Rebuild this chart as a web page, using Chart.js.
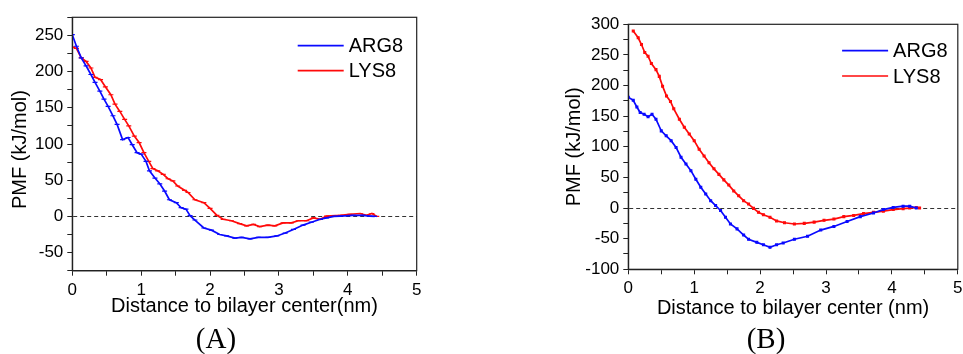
<!DOCTYPE html>
<html>
<head>
<meta charset="utf-8">
<script src="https://cdn.jsdelivr.net/npm/chart.js"></script>
<style>
  html, body { margin: 0; padding: 0; background: #fff; overflow: hidden; }
  .panel { position: absolute; top: 0; height: 325px; }
  .tag { position: absolute; top: 324px; width: 80px; text-align: center; font: 29px "Liberation Serif", "Times New Roman", serif; line-height: 1; color: #000; }
</style>
</head>
<body>
<div class="panel" style="left:0;width:440px"><canvas id="chartA"></canvas></div>
<div class="panel" style="left:520px;width:443px"><canvas id="chartB"></canvas></div>
<div class="tag" style="left:176px">(A)</div>
<div class="tag" style="left:726px">(B)</div>
<script>
// panel (A)
const aArgDist = [0, 0.06, 0.13, 0.20, 0.27, 0.33, 0.40, 0.46, 0.52, 0.59, 0.65, 0.73, 0.81, 0.87, 0.94, 1.00, 1.07, 1.12, 1.20, 1.27, 1.34, 1.41, 1.51, 1.58, 1.65, 1.71, 1.78, 1.91, 2.02, 2.14, 2.24, 2.36, 2.46, 2.58, 2.70, 2.84, 2.97, 3.09, 3.21, 3.35, 3.47, 3.60, 3.69, 3.80, 3.89, 4.00, 4.08, 4.22, 4.32, 4.39];
const aArgPmf = [251, 235, 219, 208, 196, 185, 173, 162, 152, 139, 127, 106, 109, 99, 88, 86, 76, 63, 53, 45, 35, 23, 19, 12, 10, 1, -5, -16, -19, -25, -27, -30, -29, -31, -29, -29, -27, -23, -18, -12, -8, -4, -2, 0, 0.5, 1, 1.4, 1.4, 0.5, 0];
const aLysDist = [0, 0.06, 0.13, 0.20, 0.27, 0.33, 0.41, 0.48, 0.56, 0.62, 0.69, 0.76, 0.82, 0.90, 0.97, 1.04, 1.11, 1.17, 1.24, 1.32, 1.39, 1.46, 1.53, 1.63, 1.68, 1.78, 1.91, 2.00, 2.10, 2.19, 2.31, 2.43, 2.53, 2.63, 2.72, 2.84, 2.94, 3.06, 3.18, 3.28, 3.40, 3.50, 3.60, 3.69, 3.89, 4.03, 4.18, 4.27, 4.35, 4.42];
const aLysPmf = [234, 232, 219, 214, 205, 192, 189, 179, 168, 155, 145, 134, 125, 111, 102, 88, 76, 66, 63, 58, 52, 49, 42, 36, 33, 23, 19, 11, 1.4, -4, -6, -10, -13, -11, -14, -12, -13, -9, -9, -6, -6, -2, -4, 0.5, 1.4, 3, 4, 1.4, 4, 0];

// panel (B)
const bArgDist = [0, 0.075, 0.13, 0.18, 0.24, 0.30, 0.36, 0.42, 0.50, 0.575, 0.65, 0.725, 0.80, 0.875, 0.95, 1.025, 1.10, 1.175, 1.25, 1.325, 1.40, 1.475, 1.55, 1.65, 1.75, 1.825, 1.95, 2.05, 2.15, 2.25, 2.35, 2.52, 2.72, 2.92, 3.12, 3.32, 3.52, 3.72, 3.87, 4.02, 4.17, 4.27, 4.37];
const bArgPmf = [181, 176, 165, 156, 153, 149, 153, 145, 126, 118, 110, 99, 83, 72, 61, 47, 34, 23, 12, 4, -4, -15, -26, -34, -44, -51, -56, -60, -64, -60, -57, -51, -46, -36, -30, -22, -14, -8, -2.5, 1, 3, 3, 0];
const bLysDist = [0.075, 0.15, 0.20, 0.25, 0.30, 0.35, 0.42, 0.47, 0.52, 0.58, 0.64, 0.69, 0.775, 0.85, 0.925, 1.0, 1.075, 1.15, 1.225, 1.30, 1.375, 1.45, 1.525, 1.60, 1.675, 1.75, 1.825, 1.90, 1.975, 2.05, 2.15, 2.25, 2.37, 2.52, 2.67, 2.82, 2.97, 3.12, 3.27, 3.42, 3.57, 3.72, 3.87, 4.02, 4.17, 4.27, 4.37, 4.42];
const bLysPmf = [289, 278, 267, 254, 248, 236, 226, 215, 199, 183, 174, 162, 145, 132, 121, 110, 96, 85, 74, 64, 55, 46, 37.5, 28, 20, 12, 6.5, -0.5, -7, -11, -15, -21, -24, -26, -25, -23, -20, -18, -14, -12, -9, -7, -5, -2.5, -1, 0, 1, 0];

const seriesNames = ["ARG8", "LYS8"];
const seriesColors = ["#0a0aff", "#ff0a0a"];

Chart.defaults.font.family = '"Liberation Sans", Arial, sans-serif';
Chart.defaults.color = "#000";

const toPoints = (xs, ys) => xs.map((x, i) => ({ x: x, y: ys[i] }));

// legend drawn inside the plot, top right
const cornerLegend = {
  id: "cornerLegend",
  afterDraw(chart, args, opts) {
    const { ctx, chartArea } = chart;
    const x0 = chartArea.right - opts.right;
    ctx.save();
    ctx.font = '20px "Liberation Sans", Arial, sans-serif';
    ctx.textBaseline = "middle";
    chart.data.datasets.forEach((ds, i) => {
      const y = chartArea.top + opts.top + i * opts.gap;
      ctx.strokeStyle = ds.borderColor;
      ctx.lineWidth = 1.7;
      ctx.beginPath();
      ctx.moveTo(x0, y);
      ctx.lineTo(x0 + 46, y);
      ctx.stroke();
      ctx.fillStyle = "#000";
      ctx.fillText(ds.label, x0 + 51, y + 1);
    });
    ctx.restore();
  }
};

// box around the plot
const frame = {
  id: "frame",
  afterDraw(chart) {
    const { ctx, chartArea } = chart;
    ctx.save();
    ctx.strokeStyle = "#222";
    ctx.lineWidth = 1.2;
    ctx.strokeRect(chartArea.left, chartArea.top, chartArea.right - chartArea.left, chartArea.bottom - chartArea.top);
    ctx.restore();
  }
};

function makeChart(id, cfg) {
  return new Chart(document.getElementById(id), {
    type: "line",
    data: {
      datasets: [
        {
          label: seriesNames[0],
          data: toPoints(cfg.argX, cfg.argY),
          borderColor: seriesColors[0],
          backgroundColor: seriesColors[0],
          borderWidth: 1.7,
          pointStyle: cfg.marker,
          pointRadius: cfg.markerSize,
          pointBorderWidth: 1.2,
          tension: 0
        },
        {
          label: seriesNames[1],
          data: toPoints(cfg.lysX, cfg.lysY),
          borderColor: seriesColors[1],
          backgroundColor: seriesColors[1],
          borderWidth: 1.7,
          pointStyle: cfg.marker,
          pointRadius: cfg.markerSize,
          pointBorderWidth: 1.2,
          tension: 0
        }
      ]
    },
    options: {
      responsive: true,
      maintainAspectRatio: false,
      animation: false,
      layout: { padding: cfg.padding },
      plugins: {
        legend: { display: false },
        tooltip: { enabled: false },
        cornerLegend: cfg.legend
      },
      scales: {
        x: {
          type: "linear",
          min: 0,
          max: 5,
          afterFit: s => { s.height = cfg.xHeight; s.paddingLeft = 0; s.paddingRight = 0; },
          ticks: {
            stepSize: 0.5,
            autoSkip: false,
            maxRotation: 0,
            padding: 4,
            font: { size: 17 },
            callback: v => Number.isInteger(v) ? v : ""
          },
          grid: { drawOnChartArea: false, drawTicks: true, tickLength: 5, tickColor: "#222", color: "#222" },
          border: { color: "#222", width: 1.2 },
          title: {
            display: true,
            text: cfg.xTitle,
            font: { size: 20 },
            padding: { top: 0, bottom: cfg.xTitlePad }
          }
        },
        y: {
          min: cfg.yMin,
          max: cfg.yMax,
          afterFit: s => { s.width = cfg.yWidth; s.paddingTop = 0; s.paddingBottom = 0; },
          ticks: {
            stepSize: 25,
            autoSkip: false,
            padding: 4,
            font: { size: 17 },
            callback: v => v % 50 === 0 ? v : ""
          },
          grid: {
            drawTicks: true,
            tickLength: 5,
            tickColor: "#222",
            lineWidth: 1,
            color: c => (c.tick && c.tick.value === 0) ? "#333" : "rgba(0,0,0,0)"
          },
          border: { color: "#222", width: 1.2, dash: [4, 3] },
          title: {
            display: true,
            text: cfg.yTitle,
            font: { size: 20 },
            padding: { top: cfg.yTitlePad, bottom: 0 }
          }
        }
      }
    },
    plugins: [cornerLegend, frame]
  });
}

makeChart("chartA", {
  argX: aArgDist, argY: aArgPmf, lysX: aLysDist, lysY: aLysPmf,
  marker: "line", markerSize: 2.5,
  yMin: -75, yMax: 275,
  padding: { left: 0, top: 17.3, right: 23.3, bottom: 0 },
  xHeight: 54.3, yWidth: 72.3,
  xTitle: "Distance to bilayer center(nm)", xTitlePad: 6.3,
  yTitle: "PMF (kJ/mol)  ", yTitlePad: 8.8,
  legend: { right: 119, top: 28.4, gap: 25 }
});

makeChart("chartB", {
  argX: bArgDist, argY: bArgPmf, lysX: bLysDist, lysY: bLysPmf,
  marker: "rect", markerSize: 1.3,
  yMin: -100, yMax: 300,
  padding: { left: 0, top: 24.3, right: 1.3, bottom: 0 },
  xHeight: 55.7, yWidth: 108.3,
  xTitle: "Distance to bilayer center (nm)", xTitlePad: 4.7,
  yTitle: "PMF (kJ/mol)", yTitlePad: 42.2,
  legend: { right: 115.7, top: 26.4, gap: 25.3 }
});
</script>
</body>
</html>
